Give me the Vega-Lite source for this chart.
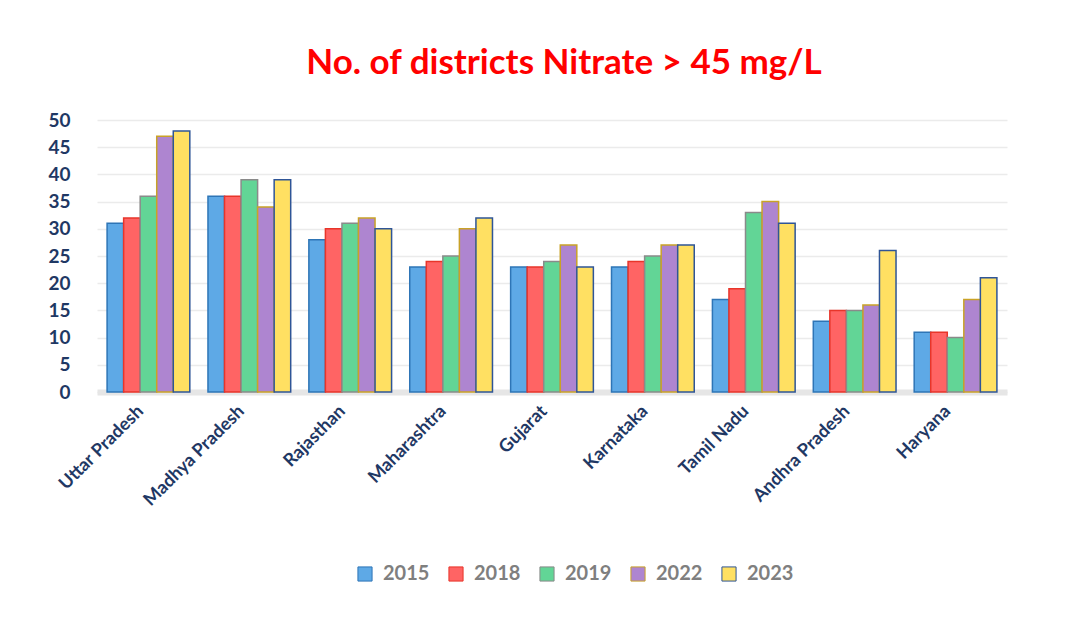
{
  "$schema": "https://vega.github.io/schema/vega-lite/v6.json",
  "width": 910,
  "height": 272,
  "autosize": "none",
  "padding": {"left": 97, "top": 120, "right": 62, "bottom": 230},
  "background": "white",
  "title": {
    "text": "No. of districts Nitrate > 45 mg/L",
    "color": "#FF0000",
    "font": "Lato",
    "fontSize": 35,
    "fontWeight": "bold",
    "anchor": "middle",
    "dx": 12,
    "offset": 30
  },
  "data": {
    "values": [
      {"state": "Uttar Pradesh", "year": "2015", "count": 31},
      {"state": "Uttar Pradesh", "year": "2018", "count": 32},
      {"state": "Uttar Pradesh", "year": "2019", "count": 36},
      {"state": "Uttar Pradesh", "year": "2022", "count": 47},
      {"state": "Uttar Pradesh", "year": "2023", "count": 48},
      {"state": "Madhya Pradesh", "year": "2015", "count": 36},
      {"state": "Madhya Pradesh", "year": "2018", "count": 36},
      {"state": "Madhya Pradesh", "year": "2019", "count": 39},
      {"state": "Madhya Pradesh", "year": "2022", "count": 34},
      {"state": "Madhya Pradesh", "year": "2023", "count": 39},
      {"state": "Rajasthan", "year": "2015", "count": 28},
      {"state": "Rajasthan", "year": "2018", "count": 30},
      {"state": "Rajasthan", "year": "2019", "count": 31},
      {"state": "Rajasthan", "year": "2022", "count": 32},
      {"state": "Rajasthan", "year": "2023", "count": 30},
      {"state": "Maharashtra", "year": "2015", "count": 23},
      {"state": "Maharashtra", "year": "2018", "count": 24},
      {"state": "Maharashtra", "year": "2019", "count": 25},
      {"state": "Maharashtra", "year": "2022", "count": 30},
      {"state": "Maharashtra", "year": "2023", "count": 32},
      {"state": "Gujarat", "year": "2015", "count": 23},
      {"state": "Gujarat", "year": "2018", "count": 23},
      {"state": "Gujarat", "year": "2019", "count": 24},
      {"state": "Gujarat", "year": "2022", "count": 27},
      {"state": "Gujarat", "year": "2023", "count": 23},
      {"state": "Karnataka", "year": "2015", "count": 23},
      {"state": "Karnataka", "year": "2018", "count": 24},
      {"state": "Karnataka", "year": "2019", "count": 25},
      {"state": "Karnataka", "year": "2022", "count": 27},
      {"state": "Karnataka", "year": "2023", "count": 27},
      {"state": "Tamil Nadu", "year": "2015", "count": 17},
      {"state": "Tamil Nadu", "year": "2018", "count": 19},
      {"state": "Tamil Nadu", "year": "2019", "count": 33},
      {"state": "Tamil Nadu", "year": "2022", "count": 35},
      {"state": "Tamil Nadu", "year": "2023", "count": 31},
      {"state": "Andhra Pradesh", "year": "2015", "count": 13},
      {"state": "Andhra Pradesh", "year": "2018", "count": 15},
      {"state": "Andhra Pradesh", "year": "2019", "count": 15},
      {"state": "Andhra Pradesh", "year": "2022", "count": 16},
      {"state": "Andhra Pradesh", "year": "2023", "count": 26},
      {"state": "Haryana", "year": "2015", "count": 11},
      {"state": "Haryana", "year": "2018", "count": 11},
      {"state": "Haryana", "year": "2019", "count": 10},
      {"state": "Haryana", "year": "2022", "count": 17},
      {"state": "Haryana", "year": "2023", "count": 21}
    ]
  },
  "mark": {"type": "bar", "strokeWidth": 1.5},
  "encoding": {
    "x": {
      "field": "state",
      "type": "nominal",
      "sort": null,
      "scale": {"paddingInner": 0.18, "paddingOuter": 0.1},
      "axis": {
        "title": null,
        "labelAngle": -45,
        "labelFont": "Lato",
        "labelFontSize": 18,
        "labelFontWeight": "bold",
        "labelColor": "#1F3864",
        "labelPadding": 10,
        "labelOffset": -14,
        "ticks": false,
        "domainColor": "#E6E6E6",
        "domainWidth": 6
      }
    },
    "xOffset": {"field": "year", "type": "nominal", "scale": {"paddingInner": 0}},
    "y": {
      "field": "count",
      "type": "quantitative",
      "scale": {"domain": [0, 50]},
      "axis": {
        "title": null,
        "values": [0, 5, 10, 15, 20, 25, 30, 35, 40, 45, 50],
        "labelFont": "Lato",
        "labelFontSize": 19,
        "labelFontWeight": "bold",
        "labelColor": "#1F3864",
        "labelPadding": 27,
        "ticks": false,
        "domain": false,
        "gridColor": "#EBEBEB",
        "gridWidth": 1.5
      }
    },
    "fill": {
      "field": "year",
      "type": "nominal",
      "scale": {
        "domain": ["2015", "2018", "2019", "2022", "2023"],
        "range": ["#5EA9E6", "#FF6464", "#62D596", "#AE85D0", "#FFE062"]
      },
      "legend": {
        "title": null,
        "orient": "none",
        "legendX": 258,
        "legendY": 444,
        "direction": "horizontal",
        "symbolType": "square",
        "symbolSize": 200,
        "symbolStrokeWidth": 1,
        "labelFont": "Lato",
        "labelFontSize": 20,
        "labelFontWeight": "bold",
        "labelColor": "#7F7F7F",
        "columnPadding": 16,
        "labelOffset": 8
      }
    },
    "stroke": {
      "field": "year",
      "type": "nominal",
      "scale": {
        "domain": ["2015", "2018", "2019", "2022", "2023"],
        "range": ["#2E75B6", "#E8352A", "#8A8A8A", "#C9A227", "#2F5597"]
      },
      "legend": null
    }
  },
  "config": {"view": {"stroke": null}}
}
